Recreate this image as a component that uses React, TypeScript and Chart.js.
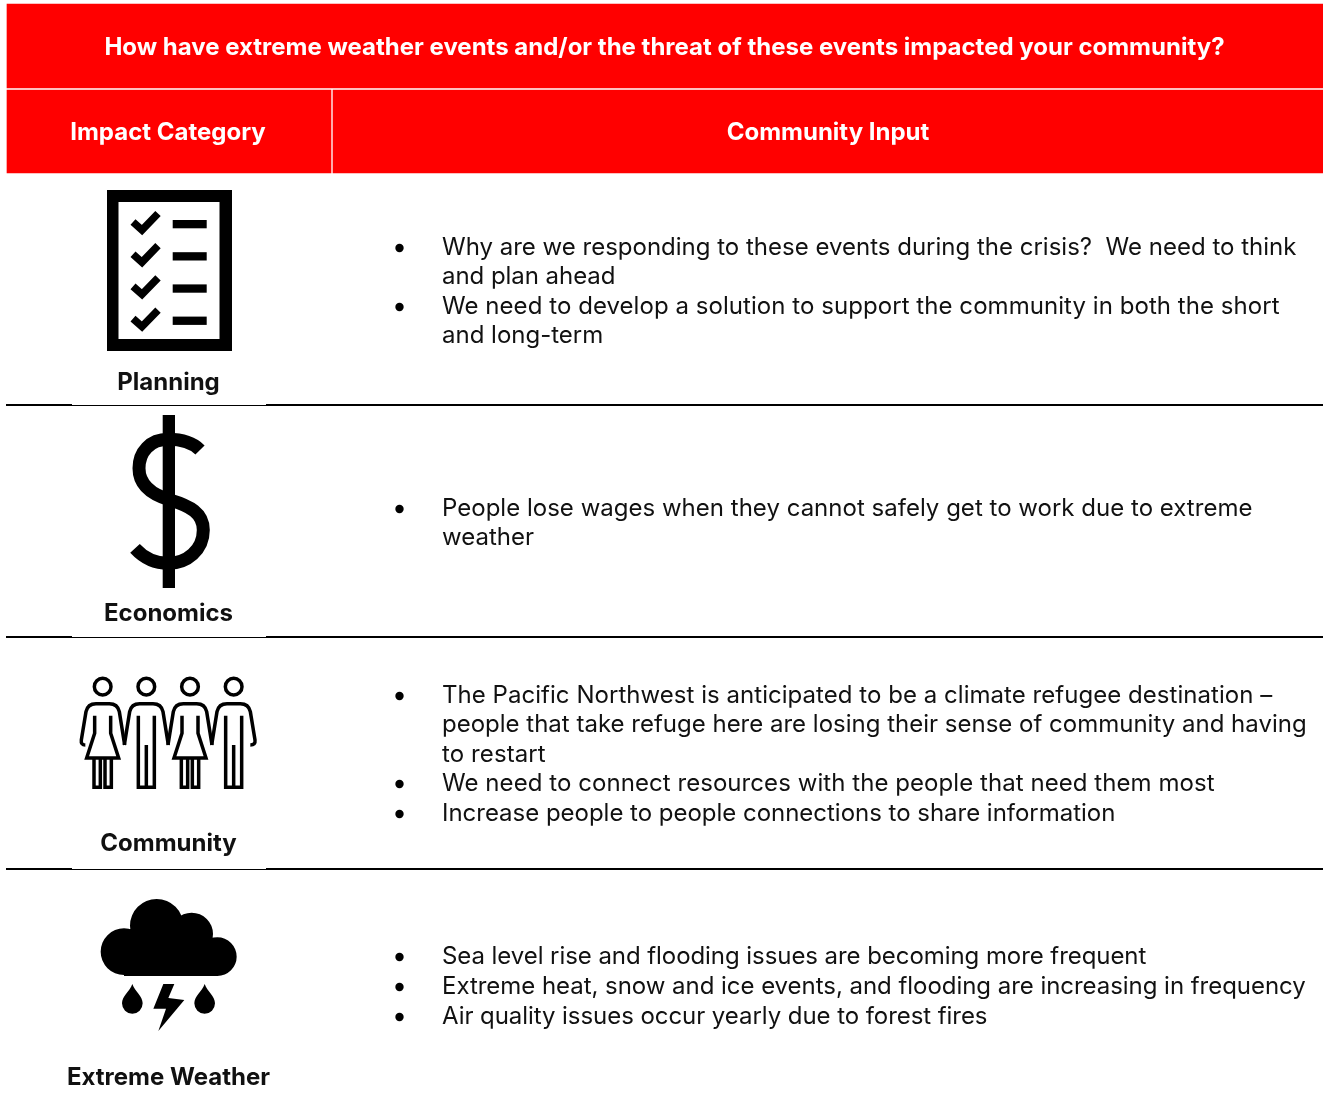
import React, { useEffect, useRef } from "react";
import { Chart, registerables } from "chart.js";

Chart.register(...registerables);

const WIDTH = 1323;
const HEIGHT = 1097;
const FONT = "Inter, 'Noto Sans', sans-serif";
const RED = "#ff0000";
const INK = "#111111";

// Header cells: left, right, top, bottom
const cellLefts = [7, 7, 333];
const cellRights = [1323, 331, 1323];
const cellTops = [4, 90, 90];
const cellBottoms = [88, 173, 173];

const headerTexts = [
  "How have extreme weather events and/or the threat of these events impacted your community?",
  "Impact Category",
  "Community Input",
];
const headerX = [664.5, 168, 828];
const headerY = [48, 133, 133];

const categories = ["Planning", "Economics", "Community", "Extreme Weather"];
const categoryY = [383, 614, 844, 1078];
const categoryX = 168.5;

const ruleYs = [405, 637, 869];

const inputLines = [
  "Why are we responding to these events during the crisis?  We need to think",
  "and plan ahead",
  "We need to develop a solution to support the community in both the short",
  "and long-term",
  "People lose wages when they cannot safely get to work due to extreme",
  "weather",
  "The Pacific Northwest is anticipated to be a climate refugee destination –",
  "people that take refuge here are losing their sense of community and having",
  "to restart",
  "We need to connect resources with the people that need them most",
  "Increase people to people connections to share information",
  "Sea level rise and flooding issues are becoming more frequent",
  "Extreme heat, snow and ice events, and flooding are increasing in frequency",
  "Air quality issues occur yearly due to forest fires",
];
const inputY = [248, 277, 307, 336, 509, 538, 696, 725, 755, 784, 814, 957, 987, 1017];
const inputSpacing = [0, -0.05, 0.055, 0, 0.015, 0.02, 0.04, 0, 0.1, 0.06, -0.02, -0.065, -0.04, -0.06];
const inputX = 442;
const bulletX = 399.5;
const bulletY = [248, 307, 509, 696, 784, 814, 957, 987, 1017];

function drawPlanning(ctx: CanvasRenderingContext2D) {
  ctx.fillRect(107, 190, 125, 161);
  ctx.fillStyle = "#fff";
  ctx.fillRect(118.5, 202, 101, 137);
  ctx.fillStyle = "#000";
  ctx.lineWidth = 7.5;
  for (let i = 0; i < 4; i++) {
    const d = i * 32.2;
    ctx.beginPath();
    ctx.moveTo(133, 222 + d);
    ctx.lineTo(142, 230 + d);
    ctx.lineTo(158, 213.5 + d);
    ctx.stroke();
    ctx.fillRect(172.7, 220 + d, 34, 8.3);
  }
}

function drawDollar(ctx: CanvasRenderingContext2D) {
  ctx.fillRect(162.7, 415, 12.3, 173);
  ctx.lineWidth = 13;
  ctx.stroke(new Path2D("M200 450 C192 442 181 439.3 168.3 439.3 C150 439.3 139 452 139 468.3 C139 486 153 495 170 500 C190 506 203.3 513 203.3 530 C203.3 550 187 563.3 168.3 563.3 C155 563.3 143 557 135 548.3"));
}

function drawPeople(ctx: CanvasRenderingContext2D) {
  ctx.save();
  ctx.translate(60, 665);
  ctx.scale(1 / 3, 1 / 3);
  ctx.lineWidth = 10.5;
  ctx.lineJoin = "miter";
  [128, 259, 390, 521].forEach((cx, i) => {
    const p = new Path2D();
    p.moveTo(cx + 25, 65);
    p.arc(cx, 65, 25, 0, Math.PI * 2);
    if (i === 0) {
      p.moveTo(cx - 52, 240);
      p.quadraticCurveTo(cx - 66, 240, cx - 64, 225);
    } else {
      p.moveTo(cx - 66, 240);
    }
    p.lineTo(cx - 50, 140);
    p.quadraticCurveTo(cx - 45, 116, cx - 20, 116);
    p.lineTo(cx + 20, 116);
    p.quadraticCurveTo(cx + 45, 116, cx + 50, 140);
    if (i === 3) {
      p.lineTo(cx + 64, 225);
      p.quadraticCurveTo(cx + 66, 240, cx + 50, 240);
    } else {
      p.lineTo(cx + 66, 240);
    }
    if (i % 2 === 0) {
      p.moveTo(cx - 24, 152);
      p.lineTo(cx - 24, 205);
      p.lineTo(cx - 48, 279);
      p.lineTo(cx + 48, 279);
      p.lineTo(cx + 24, 205);
      p.lineTo(cx + 24, 152);
      p.moveTo(cx - 26, 279);
      p.lineTo(cx - 26, 367);
      p.lineTo(cx - 7, 367);
      p.lineTo(cx - 7, 279);
      p.moveTo(cx + 7, 279);
      p.lineTo(cx + 7, 367);
      p.lineTo(cx + 26, 367);
      p.lineTo(cx + 26, 279);
    } else {
      p.moveTo(cx - 24, 152);
      p.lineTo(cx - 24, 367);
      p.lineTo(cx + 24, 367);
      p.lineTo(cx + 24, 152);
      p.moveTo(cx, 240);
      p.lineTo(cx, 367);
    }
    ctx.stroke(p);
  });
  ctx.restore();
}

function drawWeather(ctx: CanvasRenderingContext2D) {
  ctx.save();
  ctx.translate(60, 860);
  ctx.scale(1 / 3, 1 / 3);
  const p = new Path2D();
  const circles = [[192, 275, 70], [290, 197, 80], [395, 222, 64], [472, 290, 58]];
  circles.forEach(([x, y, r]) => {
    p.moveTo(x + r, y);
    p.arc(x, y, r, 0, Math.PI * 2);
  });
  p.rect(192, 240, 280, 108);
  [217, 434].forEach((x) => {
    p.moveTo(x, 372);
    p.bezierCurveTo(x + 8, 395, x + 31, 408, x + 31, 430);
    p.arc(x, 430, 31, 0, Math.PI);
    p.bezierCurveTo(x - 31, 408, x - 8, 395, x, 372);
  });
  p.moveTo(310, 372);
  p.lineTo(343, 372);
  p.lineTo(325, 414);
  p.lineTo(373, 420);
  p.lineTo(295, 513);
  p.lineTo(318, 446);
  p.lineTo(280, 446);
  p.closePath();
  ctx.fill(p);
  ctx.restore();
}

const tablePlugin = {
  id: "tableText",
  afterDatasetsDraw(chart: any) {
    const { ctx, scales } = chart;
    const X = (v: number) => scales.x.getPixelForValue(v);
    const Y = (v: number) => scales.y.getPixelForValue(v);
    ctx.save();
    ctx.fillStyle = "#000";
    ctx.strokeStyle = "#000";
    drawPlanning(ctx);
    drawDollar(ctx);
    drawPeople(ctx);
    drawWeather(ctx);
    ctx.textBaseline = "middle";
    ctx.textAlign = "center";
    ctx.fillStyle = "#fff";
    ctx.font = `700 24px ${FONT}`;
    headerTexts.forEach((t, i) => {
      ctx.fillText(t, X(headerX[i]), Y(headerY[i]));
    });
    ctx.fillStyle = INK;
    categories.forEach((t, i) => ctx.fillText(t, X(categoryX), Y(categoryY[i])));
    ctx.textAlign = "left";
    ctx.font = `400 24px ${FONT}`;
    inputLines.forEach((t, i) => {
      ctx.letterSpacing = `${inputSpacing[i]}px`;
      ctx.fillText(t, X(inputX), Y(inputY[i]));
    });
    ctx.restore();
  },
};

export default function App() {
  const ref = useRef<HTMLCanvasElement>(null);
  useEffect(() => {
    const cellSets = cellLefts.map((l, i) => ({
      type: "bar" as const,
      data: [{ x: (l + cellRights[i]) / 2, y: [cellTops[i], cellBottoms[i]] }],
      backgroundColor: RED,
      borderWidth: 0,
      barThickness: cellRights[i] - l,
      grouped: false,
    }));
    const ruleSets = ruleYs.flatMap((y) => [
      { x0: 6, x1: 72, w: 2, dy: 0 },
      { x0: 72, x1: 266, w: 1, dy: 0.5 },
      { x0: 266, x1: 1323, w: 2, dy: 0 },
    ].map((s) => ({
      type: "line" as const,
      data: [{ x: s.x0, y: y + s.dy }, { x: s.x1, y: y + s.dy }],
      borderColor: "#000",
      borderWidth: s.w,
      pointRadius: 0,
    })));
    const bullets = {
      type: "line" as const,
      data: bulletY.map((y) => ({ x: bulletX, y })),
      showLine: false,
      pointRadius: 4.2,
      pointBackgroundColor: "#000",
      pointBorderWidth: 0,
    };
    const chart = new Chart(ref.current!, {
      data: { datasets: [...cellSets, ...ruleSets, bullets] as any },
      plugins: [tablePlugin],
      options: {
        animation: false,
        responsive: false,
        events: [],
        layout: { padding: 0, autoPadding: false },
        plugins: { legend: { display: false }, tooltip: { enabled: false }, title: { display: false } },
        scales: {
          x: { type: "linear", min: 0, max: WIDTH, offset: false, display: false },
          y: { type: "linear", min: 0, max: HEIGHT, reverse: true, display: false },
        },
      },
    });
    return () => chart.destroy();
  }, []);
  return (
    <canvas
      ref={ref}
      width={WIDTH}
      height={HEIGHT}
      style={{ position: "absolute", left: 0, top: 0, display: "block" }}
    />
  );
}
